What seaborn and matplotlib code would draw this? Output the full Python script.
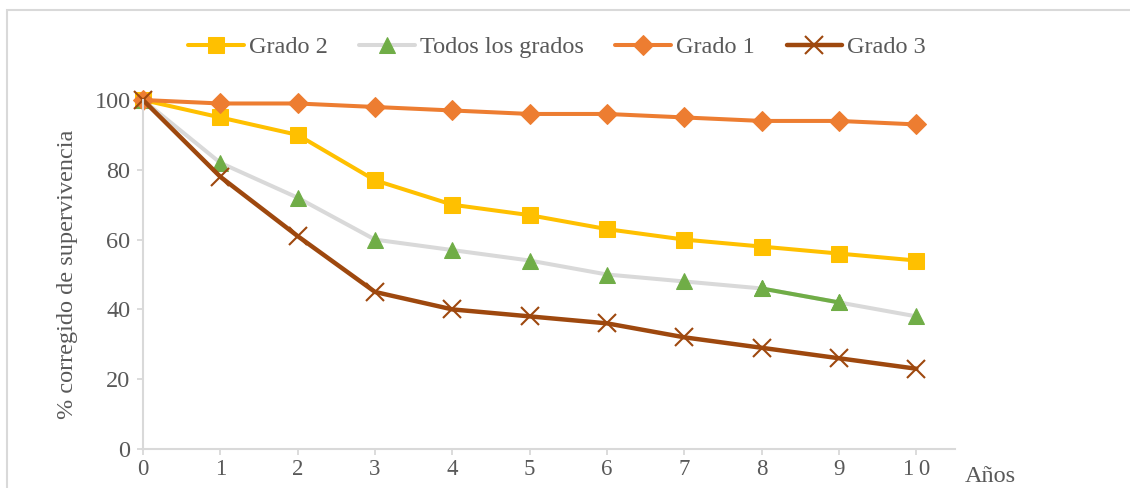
import matplotlib
matplotlib.use("Agg")
import matplotlib.pyplot as plt
import matplotlib.patches as mpatches
import seaborn as sns

years = [0, 1, 2, 3, 4, 5, 6, 7, 8, 9, 10]
year_labels = ["0", "1", "2", "3", "4", "5", "6", "7", "8", "9", "1\u20090"]
grado2 = [100, 95, 90, 77, 70, 67, 63, 60, 58, 56, 54]
todos = [100, 82, 72, 60, 57, 54, 50, 48, 46, 42, 38]
grado1 = [100, 99, 99, 98, 97, 96, 96, 95, 94, 94, 93]
grado3 = [100, 78, 61, 45, 40, 38, 36, 32, 29, 26, 23]
y_ticks = [0, 20, 40, 60, 80, 100]

sns.set_theme(style="white")
plt.rcParams["font.family"] = ["Liberation Serif", "DejaVu Serif"]

TXT = "#595959"
GRID = "#D9D9D9"
FS = 17.5

fig = plt.figure(figsize=(11.3, 4.88), dpi=100)
ax = fig.add_axes([143 / 1130, 1 - 449 / 488, (955 - 143) / 1130, (449 - 100) / 488])

lw = 2.9
sns.lineplot(x=years, y=grado2, ax=ax, color="#FFC000", lw=lw, marker="s", markersize=11,
             markeredgecolor="#FFC000", markerfacecolor="#FFC000", label="Grado 2", clip_on=False)
sns.lineplot(x=years, y=todos, ax=ax, color=GRID, lw=lw, marker="^", markersize=11.5,
             markeredgecolor="#70AD47", markerfacecolor="#70AD47", label="Todos los grados", clip_on=False)
sns.lineplot(x=years[8:10], y=todos[8:10], ax=ax, color="#70AD47", lw=lw, marker="^", markersize=11.5,
             markeredgecolor="#70AD47", markerfacecolor="#70AD47", label="_nolegend_", clip_on=False)
sns.lineplot(x=years, y=grado1, ax=ax, color="#ED7D31", lw=lw, marker="D", markersize=10.5,
             markeredgecolor="#ED7D31", markerfacecolor="#ED7D31", label="Grado 1", clip_on=False)
sns.lineplot(x=years, y=grado3, ax=ax, color="#9E480E", lw=3.2, marker="x", markersize=12.5,
             markeredgewidth=1.5, markeredgecolor="#9E480E", label="Grado 3", clip_on=False)

ax.set_xlim(0, 10.5)
ax.set_ylim(0, 100)
ax.set_xticks(years)
ax.set_xticklabels(year_labels)
ax.set_yticks(y_ticks)
ax.tick_params(axis="both", colors=GRID, labelcolor=TXT, labelsize=FS, length=4, width=1.3,
               direction="out")
ax.tick_params(axis="x", pad=3, labelsize=16.5)
ax.tick_params(axis="y", pad=5)
ax.tick_params(bottom=True, left=True)
for s in ["top", "right"]:
    ax.spines[s].set_visible(False)
for s in ["left", "bottom"]:
    ax.spines[s].set_color(GRID)
    ax.spines[s].set_linewidth(1.5)
ax.grid(False)

ax.set_ylabel("% corregido de supervivencia", fontsize=FS, color=TXT, labelpad=12)
ax.set_xlabel("")
fig.text(965 / 1130, 1 - 476 / 488, "Años", fontsize=FS, color=TXT, ha="left", va="center")

leg = ax.legend(loc="center", bbox_to_anchor=(557 / 1130, 1 - 47 / 488),
                bbox_transform=fig.transFigure, ncol=4, frameon=False, fontsize=FS,
                handlelength=2.3, handletextpad=0.2, columnspacing=1.3)
for t in leg.get_texts():
    t.set_color(TXT)

border = mpatches.Rectangle((7 / 1130, -0.2), 1.2, 1 - 10 / 488 + 0.2, transform=fig.transFigure,
                            fill=False, edgecolor=GRID, linewidth=1.5, clip_on=False)
fig.patches.append(border)

fig.savefig("out.png", dpi=100)
